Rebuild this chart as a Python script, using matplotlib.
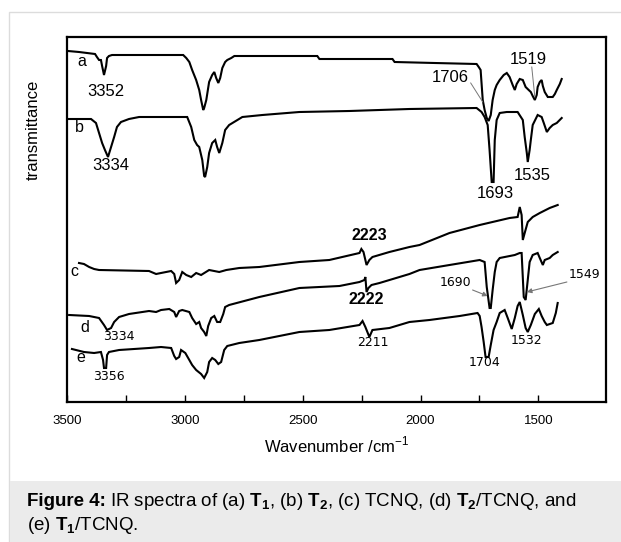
import matplotlib.pyplot as plt
from matplotlib.patches import Rectangle

plt.rcParams['font.family'] = ['Liberation Sans', 'DejaVu Sans']
plt.rcParams['mathtext.fontset'] = 'custom'
plt.rcParams['mathtext.rm'] = 'Liberation Sans'
plt.rcParams['mathtext.bf'] = 'Liberation Sans:bold'

# IR spectra (wavenumber in cm-1, transmittance in arbitrary offset units)
wn_a = [3496, 3449, 3381, 3373, 3364, 3356, 3351, 3343, 3334, 3330, 3322, 3309, 3007, 2994,
        2981, 2969, 2952, 2939, 2931, 2922, 2918, 2909, 2897, 2884, 2875, 2867, 2858, 2850,
        2841, 2829, 2820, 2803, 2790, 2438, 2429, 2119, 2110, 1940, 1762, 1753, 1745, 1736,
        1728, 1719, 1711, 1702, 1694, 1685, 1677, 1664, 1647, 1634, 1622, 1609, 1600, 1592,
        1579, 1566, 1554, 1541, 1532, 1524, 1515, 1507, 1503, 1494, 1486, 1481, 1473, 1460,
        1439, 1430, 1422, 1409, 1401]
t_a = [351, 350, 348, 345, 342, 342, 336, 327, 336, 344, 346, 347, 347, 344,
       340, 332, 322, 312, 302, 292, 294, 302, 320, 327, 330, 324, 319, 324,
       334, 340, 342, 344, 346, 346, 343, 343, 340, 339, 338, 335, 332, 302,
       292, 284, 281, 287, 302, 312, 317, 322, 327, 329, 325, 317, 312, 318,
       323, 322, 315, 312, 310, 306, 302, 307, 315, 320, 322, 316, 310, 305,
       305, 308, 312, 318, 323]

wn_b = [3500, 3398, 3377, 3364, 3351, 3339, 3326, 3313, 3300, 3288, 3271, 3237, 3194, 2990,
        2973, 2960, 2948, 2939, 2926, 2918, 2914, 2905, 2897, 2884, 2871, 2863, 2854, 2841,
        2829, 2812, 2756, 2671, 2514, 2302, 2047, 1762, 1741, 1728, 1715, 1707, 1698, 1690,
        1685, 1677, 1664, 1634, 1588, 1566, 1558, 1549, 1545, 1537, 1532, 1524, 1503, 1486,
        1477, 1464, 1452, 1439, 1422, 1401]
t_b = [283, 283, 279, 269, 259, 252, 245, 255, 265, 275, 280, 283, 285, 285,
       275, 262, 257, 255, 242, 226, 225, 235, 249, 259, 262, 255, 249, 259,
       272, 277, 285, 287, 290, 291, 293, 294, 290, 285, 277, 252, 220, 220,
       262, 282, 289, 290, 290, 282, 265, 249, 240, 252, 262, 277, 287, 285,
       279, 270, 274, 277, 279, 284]

wn_c = [3449, 3428, 3406, 3385, 3364, 3152, 3122, 3101, 3058, 3045, 3037, 3024, 3011, 2994,
        2973, 2952, 2931, 2897, 2854, 2824, 2769, 2684, 2514, 2387, 2259, 2251, 2242, 2229,
        2217, 2204, 2132, 2047, 2004, 1877, 1749, 1622, 1588, 1579, 1571, 1566, 1558, 1545,
        1524, 1494, 1452, 1418]
t_c = [139, 138, 135, 133, 132, 131, 128, 129, 131, 128, 119, 122, 130, 127,
       125, 129, 127, 132, 130, 132, 134, 135, 140, 142, 149, 153, 150, 137,
       142, 145, 150, 155, 157, 169, 177, 184, 185, 195, 187, 162, 169, 180,
       185, 189, 194, 197]

wn_d = [3491, 3406, 3364, 3343, 3330, 3313, 3300, 3279, 3237, 3152, 3122, 3101, 3066, 3045,
        3037, 3024, 3011, 2981, 2969, 2952, 2939, 2931, 2918, 2909, 2901, 2888, 2875, 2863,
        2850, 2837, 2829, 2812, 2684, 2514, 2344, 2259, 2238, 2234, 2229, 2221, 2208, 2174,
        2047, 2004, 1877, 1749, 1728, 1719, 1707, 1702, 1694, 1685, 1677, 1664, 1600, 1579,
        1571, 1562, 1554, 1545, 1537, 1524, 1503, 1494, 1481, 1473, 1452, 1439, 1418]
t_d = [87, 86, 84, 77, 72, 74, 80, 85, 88, 91, 90, 92, 93, 90,
       85, 91, 92, 90, 84, 78, 80, 74, 70, 66, 76, 84, 86, 80,
       80, 88, 95, 97, 105, 114, 116, 120, 122, 125, 110, 114, 117, 119,
       128, 132, 137, 142, 140, 115, 94, 94, 112, 130, 140, 144, 147, 149,
       149, 105, 102, 122, 140, 147, 149, 144, 137, 142, 144, 147, 150]

wn_e = [3479, 3428, 3385, 3356, 3347, 3343, 3334, 3330, 3322, 3279, 3152, 3101, 3058, 3045,
        3037, 3024, 3016, 2998, 2981, 2969, 2952, 2931, 2918, 2905, 2897, 2884, 2871, 2858,
        2846, 2833, 2820, 2769, 2684, 2514, 2387, 2259, 2246, 2234, 2217, 2204, 2132, 2047,
        1962, 1834, 1758, 1749, 1741, 1732, 1724, 1711, 1702, 1690, 1677, 1664, 1643, 1630,
        1613, 1600, 1588, 1579, 1566, 1554, 1545, 1532, 1515, 1498, 1486, 1473, 1464, 1439,
        1426, 1418]
t_e = [53, 50, 49, 50, 42, 34, 34, 47, 50, 52, 54, 55, 54, 46,
       43, 45, 52, 49, 42, 37, 32, 28, 24, 30, 40, 44, 42, 38,
       40, 52, 56, 59, 62, 70, 72, 77, 81, 75, 65, 72, 74, 80,
       82, 86, 89, 86, 75, 60, 45, 45, 57, 72, 80, 89, 92, 84,
       73, 84, 96, 100, 87, 74, 70, 77, 88, 93, 86, 80, 77, 79,
       89, 99]

curve_letters = ['a', 'b', 'c', 'd', 'e']
letter_pos = [(3436, 341), (3449, 274), (3470, 130), (3424, 75), (3440, 45)]

# peak labels: (text, wavenumber, y)
big_labels = [('3352', 3334, 311), ('3334', 3313, 236), ('1706', 1872, 324),
              ('1519', 1541, 342), ('1693', 1681, 209), ('1535', 1528, 227)]
bold_labels = [('2223', 2217, 166), ('2222', 2229, 102)]
small_labels = [('3334', 3279, 66), ('3356', 3322, 25), ('2211', 2204, 59),
                ('1690', 1851, 119), ('1549', 1303, 127), ('1532', 1549, 62),
                ('1704', 1728, 39)]
leader_lines = [((1787, 319), (1736, 300)), ((1528, 335), (1515, 305))]
leader_arrows = [((1779, 112), (1715, 106)), ((1379, 120), (1549, 110))]

fig = plt.figure(figsize=(6.21, 5.42), dpi=100)

# page frame and caption panel
fig.patches.append(Rectangle((9 / 621, -0.01), 1, 1.01 - 12 / 542, transform=fig.transFigure,
                             facecolor='none', edgecolor='#dcdcdc', linewidth=1, zorder=-10))
fig.patches.append(Rectangle((9.5 / 621, 0), 1, 61 / 542, transform=fig.transFigure,
                             facecolor='#ebebeb', edgecolor='none', zorder=-9))

ax = fig.add_axes([67 / 621, 1 - 402 / 542, 539 / 621, 365 / 542])

for wn, t in [(wn_a, t_a), (wn_b, t_b), (wn_c, t_c), (wn_d, t_d), (wn_e, t_e)]:
    ax.plot(wn, t, color='black', linewidth=1.5, solid_joinstyle='miter')

for letter, (x, y) in zip(curve_letters, letter_pos):
    ax.text(x, y, letter, fontsize=11.5, ha='center', va='center')

for txt, x, y in big_labels:
    ax.text(x, y, txt, fontsize=12, ha='center', va='center')
for txt, x, y in bold_labels:
    ax.text(x, y, txt, fontsize=11.5, fontweight='bold', ha='center', va='center')
for txt, x, y in small_labels:
    ax.text(x, y, txt, fontsize=9, family='DejaVu Sans', ha='center', va='center')

for (x0, y0), (x1, y1) in leader_lines:
    ax.plot([x0, x1], [y0, y1], color='#777777', linewidth=0.7)
for (x0, y0), (x1, y1) in leader_arrows:
    ax.annotate('', xy=(x1, y1), xytext=(x0, y0),
                arrowprops=dict(arrowstyle='-|>', color='#777777', lw=0.8,
                                mutation_scale=7, shrinkA=0, shrinkB=0))

ax.set_xlim(3500, 1213)
ax.set_ylim(0, 365)
ax.set_xticks([3500, 3000, 2500, 2000, 1500])
ax.set_xticks([3250, 2750, 2250, 1750], minor=True)
ax.tick_params(axis='x', which='both', direction='in', length=5, width=1,
               labelsize=9.5, pad=9, top=False)
ax.set_yticks([])
for s in ax.spines.values():
    s.set_linewidth(1.6)

ax.set_xlabel('Wavenumber /cm$^{-1}$', fontsize=12, labelpad=6)
ax.set_ylabel('transmittance', fontsize=12)
ax.yaxis.set_label_coords(-0.048, 0.745)

# caption: bold lead-in, then the rest placed right after it
cap_size = 13.5
y1 = 1 - 502 / 542
lead = fig.text(27 / 621, y1, 'Figure 4:', fontsize=cap_size, fontweight='bold',
                ha='left', va='center')
renderer = fig.canvas.get_renderer()
x_after = fig.transFigure.inverted().transform(
    (lead.get_window_extent(renderer).x1 + 4, 0))[0]
fig.text(x_after, y1,
         r'IR spectra of (a) $\mathbf{T_1}$, (b) $\mathbf{T_2}$, '
         r'(c) TCNQ, (d) $\mathbf{T_2}$/TCNQ, and',
         fontsize=cap_size, ha='left', va='center')
fig.text(27 / 621, 1 - 525 / 542, r'(e) $\mathbf{T_1}$/TCNQ.',
         fontsize=cap_size, ha='left', va='center')

fig.savefig('out.png', dpi=100)
